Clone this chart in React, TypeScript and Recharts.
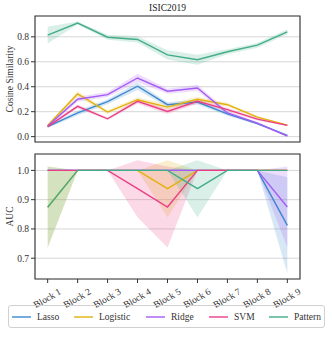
import React from "react";
import {
  ComposedChart,
  Line,
  Area,
  XAxis,
  YAxis,
  CartesianGrid,
  ReferenceArea,
} from "recharts";

const blocks = [1, 2, 3, 4, 5, 6, 7, 8, 9];
const blockLabels = blocks.map((b) => `Block ${b}`);

// cosine similarity (top panel): mean and half-width of the band
const cosLasso = [0.08, 0.19, 0.28, 0.404, 0.256, 0.277, 0.183, 0.105, 0.01];
const cosLassoErr = [0.01, 0.02, 0.02, 0.03, 0.02, 0.02, 0.015, 0.01, 0.005];
const cosLogistic = [0.09, 0.342, 0.197, 0.296, 0.237, 0.3, 0.256, 0.156, 0.092];
const cosLogisticErr = [0.01, 0.02, 0.015, 0.02, 0.02, 0.02, 0.015, 0.01, 0.005];
const cosRidge = [0.085, 0.3, 0.337, 0.47, 0.364, 0.39, 0.19, 0.108, 0.005];
const cosRidgeErr = [0.01, 0.02, 0.02, 0.035, 0.02, 0.025, 0.015, 0.01, 0.005];
const cosSvm = [0.08, 0.243, 0.143, 0.283, 0.202, 0.283, 0.216, 0.14, 0.09];
const cosSvmErr = [0.01, 0.015, 0.01, 0.02, 0.02, 0.02, 0.015, 0.01, 0.005];
const cosPattern = [0.814, 0.91, 0.797, 0.779, 0.655, 0.617, 0.68, 0.733, 0.84];
const cosPatternErr = [0.067, 0.012, 0.02, 0.025, 0.037, 0.04, 0.02, 0.02, 0.02];

// AUC (bottom panel): mean, band low, band high
const aucLasso = [1, 1, 1, 1, 1, 1, 1, 1, 0.812];
const aucLassoLo = [1, 1, 1, 1, 1, 1, 1, 1, 0.649];
const aucLassoHi = [1, 1, 1, 1, 1, 1, 1, 1, 0.977];
const aucLogistic = [0.874, 1, 1, 1, 0.9375, 1, 1, 1, 1];
const aucLogisticLo = [0.736, 1, 1, 1, 0.84, 1, 1, 1, 1];
const aucLogisticHi = [1.013, 1, 1, 1, 1.035, 1, 1, 1, 1];
const aucRidge = [1, 1, 1, 1, 1, 1, 1, 1, 0.875];
const aucRidgeLo = [1, 1, 1, 1, 1, 1, 1, 1, 0.737];
const aucRidgeHi = [1, 1, 1, 1, 1, 1, 1, 1, 1.013];
const aucSvm = [1, 1, 1, 0.9375, 0.875, 1, 1, 1, 1];
const aucSvmLo = [1, 1, 1, 0.84, 0.737, 1, 1, 1, 1];
const aucSvmHi = [1, 1, 1, 1.035, 1.013, 1, 1, 1, 1];
const aucPattern = [0.874, 1, 1, 1, 1, 0.9375, 1, 1, 1];
const aucPatternLo = [0.736, 1, 1, 1, 1, 0.84, 1, 1, 1];
const aucPatternHi = [1.013, 1, 1, 1, 1, 1.035, 1, 1, 1];

const series = [
  { key: "lasso", name: "Lasso", color: "#3b87cf" },
  { key: "logistic", name: "Logistic", color: "#e3b10c" },
  { key: "ridge", name: "Ridge", color: "#a55cf4" },
  { key: "svm", name: "SVM", color: "#ea3f86" },
  { key: "pattern", name: "Pattern", color: "#43ad86" },
];

const cosData = blocks.map((b, i) => ({
  x: b,
  lasso: cosLasso[i],
  lassoBand: [cosLasso[i] - cosLassoErr[i], cosLasso[i] + cosLassoErr[i]],
  logistic: cosLogistic[i],
  logisticBand: [cosLogistic[i] - cosLogisticErr[i], cosLogistic[i] + cosLogisticErr[i]],
  ridge: cosRidge[i],
  ridgeBand: [cosRidge[i] - cosRidgeErr[i], cosRidge[i] + cosRidgeErr[i]],
  svm: cosSvm[i],
  svmBand: [cosSvm[i] - cosSvmErr[i], cosSvm[i] + cosSvmErr[i]],
  pattern: cosPattern[i],
  patternBand: [cosPattern[i] - cosPatternErr[i], cosPattern[i] + cosPatternErr[i]],
}));

const aucData = blocks.map((b, i) => ({
  x: b,
  lasso: aucLasso[i],
  lassoBand: [aucLassoLo[i], aucLassoHi[i]],
  logistic: aucLogistic[i],
  logisticBand: [aucLogisticLo[i], aucLogisticHi[i]],
  ridge: aucRidge[i],
  ridgeBand: [aucRidgeLo[i], aucRidgeHi[i]],
  svm: aucSvm[i],
  svmBand: [aucSvmLo[i], aucSvmHi[i]],
  pattern: aucPattern[i],
  patternBand: [aucPatternLo[i], aucPatternHi[i]],
}));

const FONT = "'Liberation Serif', 'DejaVu Serif', serif";
const xDomain: [number, number] = [0.577, 9.423];
const cosDomain: [number, number] = [-0.043, 0.967];
const aucDomain: [number, number] = [0.629, 1.056];

const BlockTick = (props: any) => {
  const { x, y, payload } = props;
  return (
    <g transform={`translate(${x},${y + 14})`}>
      <text
        transform="rotate(-30)"
        textAnchor="middle"
        dominantBaseline="middle"
        fontFamily={FONT}
        fontSize={9.5}
        fill="#333"
      >
        {blockLabels[payload.value - 1]}
      </text>
    </g>
  );
};

const renderSeries = () => [
  ...series.map((s) => (
    <Area
      key={s.key + "Band"}
      dataKey={s.key + "Band"}
      stroke="none"
      fill={s.color}
      fillOpacity={0.2}
      isAnimationActive={false}
      activeDot={false}
    />
  )),
  ...series.map((s) => (
    <Line
      key={s.key}
      dataKey={s.key}
      stroke={s.color}
      strokeWidth={1.4}
      dot={false}
      isAnimationActive={false}
    />
  )),
];

const tickStyle = { fontFamily: FONT, fontSize: 9.5, fill: "#333" };

export default function App() {
  return (
    <div style={{ position: "absolute", left: 0, top: 0, width: 332, height: 341, background: "#fff" }}>
      <div
        style={{
          position: "absolute",
          top: 2,
          left: 35,
          width: 265,
          textAlign: "center",
          fontFamily: FONT,
          fontSize: 9.5,
          color: "#222",
          lineHeight: "12px",
        }}
      >
        ISIC2019
      </div>
      <div style={{ position: "absolute", top: 0, left: 0 }}>
        <ComposedChart width={332} height={150} data={cosData} margin={{ top: 16, right: 32, bottom: 8, left: 0 }}>
          <CartesianGrid horizontal vertical={false} stroke="#d6d6d6" strokeWidth={1} />
          <XAxis dataKey="x" type="number" domain={xDomain} ticks={blocks} hide allowDataOverflow />
          <YAxis
            type="number"
            domain={cosDomain}
            ticks={[0, 0.2, 0.4, 0.6, 0.8]}
            tickFormatter={(v: number) => v.toFixed(1)}
            width={35}
            axisLine={false}
            tickLine={{ stroke: "#333" }}
            tickSize={4}
            tickMargin={2}
            tick={tickStyle}
            allowDataOverflow
            label={{
              value: "Cosine Similarity",
              angle: -90,
              position: "center",
              dx: -8,
              style: { fontFamily: FONT, fontSize: 9.5, fill: "#333" },
            }}
          />
          {renderSeries()}
          <ReferenceArea
            x1={xDomain[0]}
            x2={xDomain[1]}
            y1={cosDomain[0]}
            y2={cosDomain[1]}
            fill="none"
            stroke="#3a3a3a"
            strokeWidth={1.2}
            ifOverflow="visible"
          />
        </ComposedChart>
      </div>
      <div style={{ position: "absolute", top: 146, left: 0 }}>
        <ComposedChart width={332} height={164} data={aucData} margin={{ top: 8, right: 32, bottom: 0, left: 0 }}>
          <CartesianGrid horizontal vertical={false} stroke="#d6d6d6" strokeWidth={1} />
          <XAxis
            dataKey="x"
            type="number"
            domain={xDomain}
            ticks={blocks}
            height={31}
            axisLine={false}
            tickLine={{ stroke: "#333" }}
            tickSize={4}
            tickMargin={2}
            tick={<BlockTick />}
            interval={0}
            allowDataOverflow
          />
          <YAxis
            type="number"
            domain={aucDomain}
            ticks={[0.7, 0.8, 0.9, 1.0]}
            tickFormatter={(v: number) => v.toFixed(1)}
            width={35}
            axisLine={false}
            tickLine={{ stroke: "#333" }}
            tickSize={4}
            tickMargin={2}
            tick={tickStyle}
            allowDataOverflow
            label={{
              value: "AUC",
              angle: -90,
              position: "center",
              dx: -8,
              style: { fontFamily: FONT, fontSize: 9.5, fill: "#333" },
            }}
          />
          {renderSeries()}
          <ReferenceArea
            x1={xDomain[0]}
            x2={xDomain[1]}
            y1={aucDomain[0]}
            y2={aucDomain[1]}
            fill="none"
            stroke="#3a3a3a"
            strokeWidth={1.2}
            ifOverflow="visible"
          />
        </ComposedChart>
      </div>
      <div
        style={{
          position: "absolute",
          top: 305,
          left: 8,
          width: 317,
          height: 23,
          border: "1px solid #d0d0d0",
          borderRadius: 3,
          boxSizing: "border-box",
          fontFamily: FONT,
          fontSize: 9.5,
          color: "#333",
        }}
      >
        {series.map((s, i) => {
          const lefts = [3, 65, 137, 200, 260];
          return (
            <div
              key={s.key}
              style={{ position: "absolute", left: lefts[i], top: 0, height: 21, display: "flex", alignItems: "center" }}
            >
              <span
                style={{ display: "inline-block", width: 19, height: 0, borderTop: `2px solid ${s.color}`, opacity: 0.7, marginRight: 6 }}
              />
              <span>{s.name}</span>
            </div>
          );
        })}
      </div>
    </div>
  );
}
